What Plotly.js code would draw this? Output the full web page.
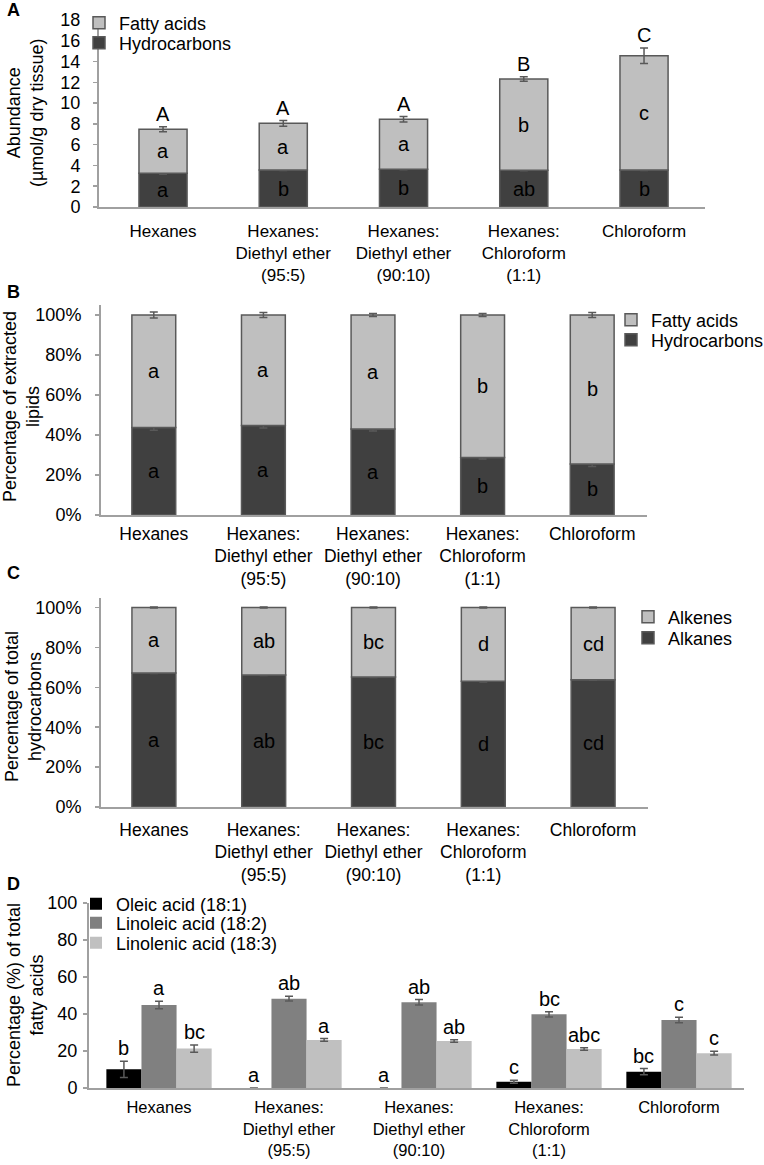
<!DOCTYPE html>
<html>
<head>
<meta charset="utf-8">
<script src="https://cdn.plot.ly/plotly-3.0.1.min.js"></script>
<style>html,body{margin:0;padding:0;background:#fff;}#chart{width:764px;height:1165px;}</style>
</head>
<body>
<div id="chart"></div>
<script>
// ---------- data ----------
const categories = ['Hexanes', 'Hexanes:<br>Diethyl ether<br>(95:5)', 'Hexanes:<br>Diethyl ether<br>(90:10)', 'Hexanes:<br>Chloroform<br>(1:1)', 'Chloroform'];

// Panel A: abundance (µmol/g dry tissue)
const abundHydrocarbons = [3.24, 3.56, 3.63, 3.53, 3.56];
const abundHydrocarbonsErr = [0.08, 0.05, 0.05, 0.05, 0.05];
const abundFattyAcids = [4.24, 4.49, 4.81, 8.79, 11.00];
const abundTotalErr = [0.24, 0.27, 0.27, 0.22, 0.75];
const abundTotalLetters = ['A', 'A', 'A', 'B', 'C'];
const abundFALetters = ['a', 'a', 'a', 'b', 'c'];
const abundHCLetters = ['a', 'b', 'b', 'ab', 'b'];

// Panel B: percentage of extracted lipids
const pctHydrocarbons = [43.8, 44.8, 43.0, 28.8, 25.5];
const pctHydrocarbonsErr = [1.4, 1.3, 1.0, 0.8, 1.3];
const pctFattyAcids = [56.2, 55.2, 57.0, 71.2, 74.5];
const pctFattyAcidsErr = [1.5, 1.2, 0.75, 0.8, 1.3];
const pctFALetters = ['a', 'a', 'a', 'b', 'b'];
const pctHCLetters = ['a', 'a', 'a', 'b', 'b'];

// Panel C: percentage of total hydrocarbons
const alkanes = [67.2, 66.2, 65.2, 63.0, 63.8];
const alkanesErr = [0.3, 0.3, 0.3, 0.3, 0.3];
const alkenes = [32.8, 33.8, 34.8, 37.0, 36.2];
const alkenesErr = [0.3, 0.3, 0.3, 0.3, 0.3];
const alkeneLetters = ['a', 'ab', 'bc', 'd', 'cd'];
const alkaneLetters = ['a', 'ab', 'bc', 'd', 'cd'];

// Panel D: percentage (%) of total fatty acids
const oleic = [10.1, 0, 0, 3.4, 8.8];
const oleicErr = [4.4, 0, 0, 0.8, 1.7];
const linoleic = [44.9, 48.3, 46.3, 39.8, 36.8];
const linoleicErr = [2.0, 1.3, 1.5, 1.4, 1.5];
const linolenic = [21.3, 26.0, 25.4, 21.1, 18.8];
const linolenicErr = [2.0, 0.7, 0.7, 0.7, 1.0];
const oleicLetters = ['b', 'a', 'a', 'c', 'bc'];
const linoleicLetters = ['a', 'ab', 'ab', 'bc', 'c'];
const linolenicLetters = ['bc', 'a', 'ab', 'abc', 'c'];

// ---------- style ----------
const W = 764, H = 1165;
const FONT = 'Liberation Sans, Arial, sans-serif';
const DARK = '#404040', LIGHT = '#bfbfbf', OUTLINE = '#595959';
const AXIS = '#a0a0a0';
const ERR = {color: '#595959', thickness: 1.5, width: 4};
const BARW = 0.4;
const BARGAP_D = 0.19;

const px = v => v / W;
const py = v => 1 - v / H;

function errOpt(arr) { return Object.assign({type: 'data', array: arr, visible: true}, ERR); }

function stackPair(xa, ya, legLow, legHigh, lowY, lowErr, lowName, highY, highErr, highName) {
  const base = {type: 'bar', x: categories, xaxis: xa, yaxis: ya, width: BARW, offset: -BARW / 2, hoverinfo: 'skip'};
  return [
    Object.assign({}, base, {y: lowY, name: lowName, legend: legLow,
                  marker: {color: DARK, line: {color: OUTLINE, width: 1.5}}, error_y: errOpt(lowErr)}),
    Object.assign({}, base, {y: highY, base: lowY, name: highName, legend: legHigh,
                  marker: {color: LIGHT, line: {color: OUTLINE, width: 1.5}}, error_y: errOpt(highErr)})
  ];
}

const traces = [].concat(
  stackPair('x', 'y', 'legend2', 'legend', abundHydrocarbons, abundHydrocarbonsErr, 'Hydrocarbons', abundFattyAcids, abundTotalErr, 'Fatty acids'),
  stackPair('x2', 'y2', 'legend4', 'legend3', pctHydrocarbons, pctHydrocarbonsErr, 'Hydrocarbons', pctFattyAcids, pctFattyAcidsErr, 'Fatty acids'),
  stackPair('x3', 'y3', 'legend6', 'legend5', alkanes, alkanesErr, 'Alkanes', alkenes, alkenesErr, 'Alkenes'),
  [
    {type: 'bar', x: categories, y: oleic, name: 'Oleic acid (18:1)', xaxis: 'x4', yaxis: 'y4', legend: 'legend7',
     marker: {color: '#000000'}, error_y: errOpt(oleicErr), hoverinfo: 'skip'},
    {type: 'bar', x: categories, y: linoleic, name: 'Linoleic acid (18:2)', xaxis: 'x4', yaxis: 'y4', legend: 'legend8',
     marker: {color: '#808080'}, error_y: errOpt(linoleicErr), hoverinfo: 'skip'},
    {type: 'bar', x: categories, y: linolenic, name: 'Linolenic acid (18:3)', xaxis: 'x4', yaxis: 'y4', legend: 'legend9',
     marker: {color: '#c0c0c0'}, error_y: errOpt(linolenicErr), hoverinfo: 'skip'}
  ]
);

// ---------- annotations (letters) ----------
const annotations = [];
function letter(xa, ya, x, y, text, anchor) {
  annotations.push({xref: xa, yref: ya, x: x, y: y, text: text, showarrow: false,
                    yanchor: anchor, xanchor: 'center', font: {size: 20, color: '#000'}});
}
categories.forEach((c, i) => {
  // A
  const totA = abundHydrocarbons[i] + abundFattyAcids[i];
  letter('x', 'y', i, totA + abundTotalErr[i], abundTotalLetters[i], 'bottom');
  letter('x', 'y', i, abundHydrocarbons[i] + abundFattyAcids[i] / 2, abundFALetters[i], 'middle');
  letter('x', 'y', i, abundHydrocarbons[i] / 2, abundHCLetters[i], 'middle');
  // B
  letter('x2', 'y2', i, pctHydrocarbons[i] + pctFattyAcids[i] / 2, pctFALetters[i], 'middle');
  letter('x2', 'y2', i, pctHydrocarbons[i] / 2, pctHCLetters[i], 'middle');
  // C
  letter('x3', 'y3', i, alkanes[i] + alkenes[i] / 2, alkeneLetters[i], 'middle');
  letter('x3', 'y3', i, alkanes[i] / 2, alkaneLetters[i], 'middle');
  // D
  const w = (1 - BARGAP_D) / 3;
  letter('x4', 'y4', i - w, oleic[i] + oleicErr[i], oleicLetters[i], 'bottom');
  letter('x4', 'y4', i, linoleic[i] + linoleicErr[i], linoleicLetters[i], 'bottom');
  letter('x4', 'y4', i + w, linolenic[i] + linolenicErr[i], linolenicLetters[i], 'bottom');
});

// panel letters
[['A', 10], ['B', 292], ['C', 573], ['D', 884]].forEach(([t, y]) => {
  annotations.push({xref: 'paper', yref: 'paper', x: px(13), y: py(y), text: '<b>' + t + '</b>', showarrow: false,
                    xanchor: 'center', yanchor: 'middle', font: {size: 18, color: '#000'}});
});

// y-axis titles
[['Abundance<br>(µmol/g dry tissue)', 113, 26], ['Percentage of extracted<br>lipids', 407, 21],
 ['Percentage of total<br>hydrocarbons', 707, 23], ['Percentage (%) of total<br>fatty acids', 995, 25]].forEach(([t, y, x]) => {
  annotations.push({xref: 'paper', yref: 'paper', x: px(x), y: py(y), text: t, showarrow: false, textangle: -90,
                    xanchor: 'center', yanchor: 'middle', align: 'center', font: {size: 18, color: '#000'}});
});

// ---------- axes ----------
function xax(d0, d1, r0, r1, anchor, fs, standoff) {
  return {domain: [px(d0), px(d1)], range: [r0, r1], anchor: anchor, type: 'category',
          categoryorder: 'array', categoryarray: categories,
          showline: true, linecolor: AXIS, linewidth: 1.5, ticks: '', showgrid: false, zeroline: false,
          tickfont: {size: fs, color: '#000'}, ticklabelstandoff: standoff, fixedrange: true};
}
function yax(top, bottom, range, dtick, suffix, pos, standoff) {
  return {domain: [py(bottom), py(top)], range: range, anchor: 'free', position: px(pos),
          tick0: 0, dtick: dtick, ticksuffix: suffix,
          showline: true, linecolor: AXIS, linewidth: 1.5, ticks: 'outside', ticklen: 4, tickcolor: AXIS, tickwidth: 1.5,
          showgrid: false, zeroline: false, tickfont: {size: 18, color: '#000'},
          ticklabelstandoff: standoff, fixedrange: true};
}

// one legend per entry so that each row sits where the reference puts it
function legendOpt(textX, centerY) {
  return {x: px(textX - 37), y: py(centerY), xanchor: 'left', yanchor: 'middle', bgcolor: 'rgba(0,0,0,0)',
          font: {size: 18, color: '#000'}, itemclick: false, itemdoubleclick: false};
}

const layout = {
  width: W, height: H,
  margin: {l: 0, r: 0, t: 0, b: 0, autoexpand: false},
  paper_bgcolor: '#fff', plot_bgcolor: 'rgba(0,0,0,0)',
  font: {family: FONT, color: '#000'},
  barmode: 'group', bargap: BARGAP_D, bargroupgap: 0,
  hovermode: false,
  xaxis: xax(97, 705, -0.549, 4.507, 'y', 17, 8),
  yaxis: yax(20, 207, [0, 18], 2, '', 97, 9),
  xaxis2: xax(99, 647, -0.5, 4.5, 'y2', 17.5, 2),
  yaxis2: yax(305, 515, [0, 105], 20, '%', 99, 10),
  xaxis3: xax(99, 648, -0.5, 4.5, 'y3', 17.5, 6),
  yaxis3: yax(597.5, 807, [0, 105], 20, '%', 99, 10),
  xaxis4: xax(87, 744, -0.554, 4.5, 'y4', 16.5, 4),
  yaxis4: yax(903, 1088, [0, 100], 20, '', 87, 2),
  showlegend: true,
  legend: legendOpt(116, 23),
  legend2: legendOpt(116, 43),
  legend3: legendOpt(648, 320),
  legend4: legendOpt(648, 340),
  legend5: legendOpt(665, 617),
  legend6: legendOpt(665, 638),
  legend7: legendOpt(113, 904),
  legend8: legendOpt(113, 923),
  legend9: legendOpt(113, 943),
  annotations: annotations
};

Plotly.newPlot('chart', traces, layout, {displayModeBar: false, staticPlot: true});
</script>
</body>
</html>
